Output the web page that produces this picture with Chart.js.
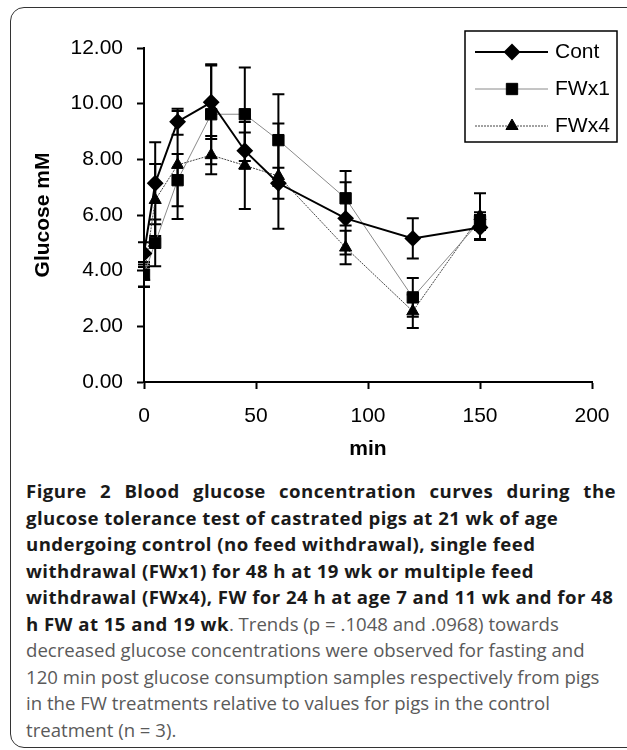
<!DOCTYPE html>
<html>
<head>
<meta charset="utf-8">
<script src="https://cdn.jsdelivr.net/npm/chart.js"></script>
<style>
  html, body { margin: 0; padding: 0; background: #fff; width: 627px; height: 750px; overflow: hidden; }
  #frame { position: absolute; left: 10px; top: 7px; width: 640px; height: 741px; border: 1.5px solid #333; border-radius: 14px; box-sizing: border-box; }
  #chart-box { position: absolute; left: 0; top: 0; width: 627px; height: 470px; }
  #caption { position: absolute; left: 26px; top: 478px; width: 590px; font-family: "Open Sans", Lato, sans-serif; font-size: 18.6px; line-height: 26.5px; color: #5a5a5a; }
  #caption b { color: #1a1a1a; letter-spacing: 0.45px; }
  .ln { white-space: nowrap; }
  .just { text-align: justify; text-align-last: justify; }
</style>
</head>
<body>
<div id="frame"></div>
<div id="chart-box"><canvas id="glucose-chart" width="627" height="470"></canvas></div>
<div id="caption">
  <div class="ln just"><b>Figure 2 Blood glucose concentration curves during the</b></div>
  <div class="ln"><b>glucose tolerance test of castrated pigs at 21 wk of age</b></div>
  <div class="ln"><b>undergoing control (no feed withdrawal), single feed</b></div>
  <div class="ln"><b>withdrawal (FWx1) for 48 h at 19 wk or multiple feed</b></div>
  <div class="ln"><b>withdrawal (FWx4), FW for 24 h at age 7 and 11 wk and for 48</b></div>
  <div class="ln"><b>h FW at 15 and 19 wk</b>. Trends (p = .1048 and .0968) towards</div>
  <div class="ln">decreased glucose concentrations were observed for fasting and</div>
  <div class="ln">120 min post glucose consumption samples respectively from pigs</div>
  <div class="ln">in the FW treatments relative to values for pigs in the control</div>
  <div class="ln">treatment (n = 3).</div>
</div>
<script>
const times = [0, 5, 15, 30, 45, 60, 90, 120, 150];

const cont = [4.62, 7.14, 9.35, 10.05, 8.31, 7.14, 5.88, 5.16, 5.55];
const contErr = [0.4, 1.47, 0.47, 1.32, 0.65, 0.56, 1.3, 0.72, 0.45];

const fwx1 = [3.86, 5.0, 7.25, 9.62, 9.62, 8.69, 6.6, 3.04, 5.78];
const fwx1Err = [0.45, 0.84, 0.94, 1.8, 1.68, 1.65, 0.98, 0.7, 0.32];

const fwx4 = [3.78, 6.54, 7.8, 8.15, 7.78, 7.4, 4.83, 2.54, 5.96];
const fwx4Err = [0.35, 1.29, 1.94, 0.69, 1.56, 1.89, 0.6, 0.6, 0.82];

const xTicks = [0, 50, 100, 150, 200];
const yTicks = [0, 2, 4, 6, 8, 10, 12];

const FONT = '"Liberation Sans", Arial, sans-serif';

function toPoints(values) {
  return times.map((t, i) => ({ x: t, y: values[i] }));
}

// vertical error bars with caps, drawn under the lines/markers
const errorBarPlugin = {
  id: 'errorBars',
  beforeDatasetsDraw(chart) {
    const ctx = chart.ctx;
    const xs = chart.scales.x;
    const ys = chart.scales.y;
    ctx.save();
    ctx.strokeStyle = '#000';
    ctx.lineWidth = 2;
    chart.data.datasets.forEach(ds => {
      ds.data.forEach((p, i) => {
        const x = xs.getPixelForValue(p.x);
        const top = ys.getPixelForValue(p.y + ds.errors[i]);
        const bot = ys.getPixelForValue(p.y - ds.errors[i]);
        ctx.beginPath();
        ctx.moveTo(x, top);
        ctx.lineTo(x, bot);
        ctx.moveTo(x - 6, top);
        ctx.lineTo(x + 6, top);
        ctx.moveTo(x - 6, bot);
        ctx.lineTo(x + 6, bot);
        ctx.stroke();
      });
    });
    ctx.restore();
  }
};

// boxed legend in the top right corner
const boxLegendPlugin = {
  id: 'boxLegend',
  afterDraw(chart) {
    const ctx = chart.ctx;
    const left = 465, top = 31, w = 152, h = 111;
    ctx.save();
    ctx.lineWidth = 1.5;
    ctx.strokeStyle = '#000';
    ctx.strokeRect(left, top, w, h);
    chart.data.datasets.forEach((ds, i) => {
      const y = top + 21 + i * 37;
      ctx.beginPath();
      ctx.setLineDash(ds.borderDash || []);
      ctx.strokeStyle = ds.borderColor;
      ctx.lineWidth = ds.borderWidth;
      ctx.moveTo(left + 10, y);
      ctx.lineTo(left + 83, y);
      ctx.stroke();
      ctx.setLineDash([]);
      ctx.fillStyle = '#000';
      ctx.strokeStyle = '#000';
      Chart.helpers.drawPoint(ctx, {
        pointStyle: ds.pointStyle,
        radius: ds.pointRadius,
        rotation: 0,
        borderWidth: 1
      }, left + 47, y);
      ctx.fillStyle = '#000';
      ctx.font = '21px ' + FONT;
      ctx.textBaseline = 'middle';
      ctx.textAlign = 'left';
      ctx.fillText(ds.label, left + 90, y);
    });
    ctx.restore();
  }
};

const ctx = document.getElementById('glucose-chart').getContext('2d');

new Chart(ctx, {
  type: 'line',
  data: {
    datasets: [
      {
        label: 'Cont',
        data: toPoints(cont),
        errors: contErr,
        borderColor: '#000',
        borderWidth: 2,
        pointStyle: 'rectRot',
        pointRadius: 7,
        pointBackgroundColor: '#000',
        pointBorderColor: '#000',
        tension: 0
      },
      {
        label: 'FWx1',
        data: toPoints(fwx1),
        errors: fwx1Err,
        borderColor: '#8a8a8a',
        borderWidth: 1,
        pointStyle: 'rect',
        pointRadius: 8,
        pointBackgroundColor: '#000',
        pointBorderColor: '#000',
        tension: 0
      },
      {
        label: 'FWx4',
        data: toPoints(fwx4),
        errors: fwx4Err,
        borderColor: '#444',
        borderWidth: 1,
        borderDash: [2, 1],
        pointStyle: 'triangle',
        pointRadius: 7,
        pointBackgroundColor: '#000',
        pointBorderColor: '#000',
        tension: 0
      }
    ]
  },
  options: {
    responsive: false,
    animation: false,
    layout: {
      padding: { left: 20, top: 48, right: 35, bottom: 8 }
    },
    plugins: {
      legend: { display: false },
      tooltip: { enabled: false }
    },
    scales: {
      x: {
        type: 'linear',
        min: 0,
        max: 200,
        afterBuildTicks: scale => { scale.ticks = xTicks.map(v => ({ value: v })); },
        afterFit: scale => { scale.height = 80; },
        ticks: {
          color: '#000',
          padding: 15,
          font: { family: FONT, size: 21 },
          maxRotation: 0
        },
        grid: {
          drawOnChartArea: false,
          drawTicks: true,
          tickLength: 7,
          tickColor: '#000',
          tickWidth: 2
        },
        border: { color: '#000', width: 2 },
        title: {
          display: true,
          text: 'min',
          color: '#000',
          font: { family: FONT, size: 21, weight: 'bold' },
          padding: { top: 0, bottom: 0 }
        }
      },
      y: {
        min: 0,
        max: 12,
        afterBuildTicks: scale => { scale.ticks = yTicks.map(v => ({ value: v })); },
        afterFit: scale => { scale.width = 124; },
        ticks: {
          color: '#000',
          padding: 14,
          font: { family: FONT, size: 21 },
          callback: v => Number(v).toFixed(2)
        },
        grid: {
          drawOnChartArea: false,
          drawTicks: true,
          tickLength: 7,
          tickColor: '#000',
          tickWidth: 2
        },
        border: { color: '#000', width: 2 },
        title: {
          display: true,
          text: 'Glucose mM',
          color: '#000',
          font: { family: FONT, size: 21, weight: 'bold' },
          padding: { top: 11, bottom: 0 }
        }
      }
    }
  },
  plugins: [errorBarPlugin, boxLegendPlugin]
});
</script>
</body>
</html>
